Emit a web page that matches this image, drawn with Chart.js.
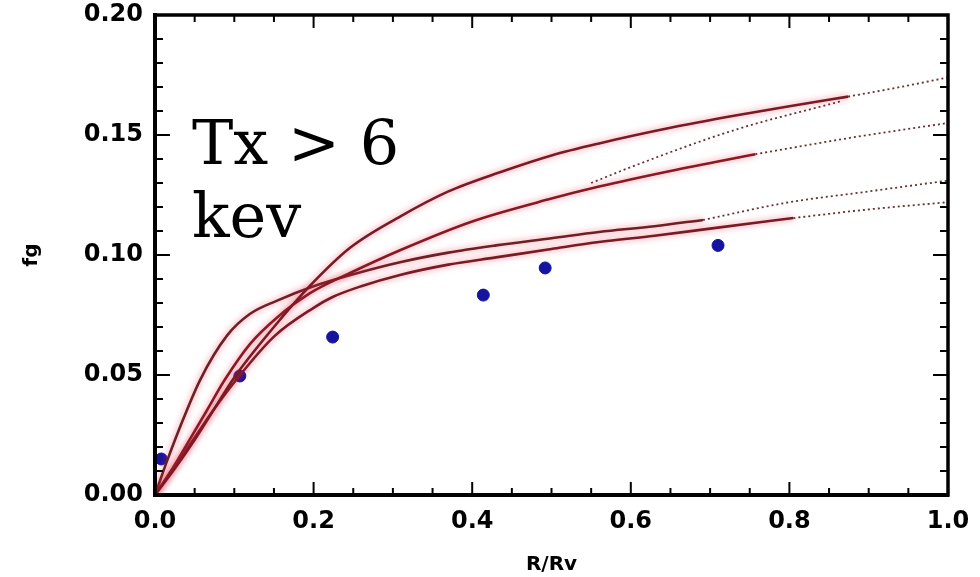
<!DOCTYPE html>
<html><head><meta charset="utf-8">
<script src="https://cdn.jsdelivr.net/npm/chart.js@4.4.1/dist/chart.umd.min.js"></script>
<style>html,body{margin:0;padding:0;background:#fff}#wrap{width:980px;height:577px}</style>
</head><body><div id="wrap"><canvas id="c" width="980" height="577"></canvas></div>
<script>
// ---- data ----
const xTicks = [0, 0.2, 0.4, 0.6, 0.8, 1.0];
const yTicks = [0, 0.05, 0.10, 0.15, 0.20];

const curveA_x = [0,0.025,0.05,0.075,0.1,0.15,0.195,0.246,0.309,0.37,0.435,0.5,0.56,0.65,0.73,0.8,0.874];
const curveA_y = [0,0.011,0.023,0.036,0.049,0.07,0.087,0.103,0.116,0.1265,0.1345,0.1415,0.1465,0.153,0.158,0.162,0.166];
const curveA_ext_x = [0.874,0.94,1.0];
const curveA_ext_y = [0.166,0.170,0.174];

const curveB_x = [0,0.02,0.04,0.065,0.088,0.12,0.154,0.195,0.246,0.309,0.4,0.5,0.56,0.65,0.757];
const curveB_y = [0,0.01,0.021,0.035,0.048,0.063,0.074,0.084,0.0925,0.102,0.114,0.1235,0.1285,0.135,0.142];
const curveB_ext_x = [0.757,0.88,1.0];
const curveB_ext_y = [0.142,0.149,0.155];
const branch_x = [0.55,0.603,0.73,0.864];
const branch_y = [0.130,0.137,0.152,0.164];

const curveC_x = [0,0.015,0.03,0.057,0.091,0.12,0.154,0.2,0.25,0.309,0.37,0.43,0.5,0.56,0.63,0.691];
const curveC_y = [0,0.014,0.027,0.048,0.0665,0.0755,0.081,0.087,0.092,0.097,0.101,0.104,0.107,0.1096,0.112,0.1146];
const curveC_ext_x = [0.691,0.80,0.889,1.0];
const curveC_ext_y = [0.1146,0.122,0.126,0.131];

const curveD_x = [0,0.025,0.05,0.075,0.1,0.15,0.2,0.224,0.26,0.309,0.37,0.43,0.5,0.56,0.63,0.7,0.805];
const curveD_y = [0,0.012,0.024,0.036,0.047,0.066,0.078,0.0825,0.087,0.0917,0.096,0.099,0.1025,0.1054,0.108,0.111,0.1154];
const curveD_ext_x = [0.805,0.9,1.0];
const curveD_ext_y = [0.1154,0.119,0.122];

const obs_x = [0.008,0.107,0.224,0.414,0.492,0.71];
const obs_y = [0.015,0.0496,0.0658,0.0833,0.0946,0.104];

// ---- build ----
const pts = (xs, ys) => xs.map((x, i) => ({x, y: ys[i]}));
const solid = (xs, ys, col) => ({type:'line', data: pts(xs, ys), borderColor: col, borderWidth: 2.6,
  pointRadius: 0, cubicInterpolationMode: 'monotone', fill: false, glow: true});
const dotted = (xs, ys) => ({type:'line', data: pts(xs, ys), borderColor: '#6a3030', borderWidth: 1.8,
  borderDash: [2, 3], pointRadius: 0, cubicInterpolationMode: 'monotone', fill: false});

const glowPlugin = {
  id: 'glow',
  beforeDatasetDraw(chart, args) {
    const ds = chart.data.datasets[args.index];
    if (ds.glow) { const c = chart.ctx; c.save(); c.shadowColor = 'rgba(235,40,70,0.6)'; c.shadowBlur = 6; }
  },
  afterDatasetDraw(chart, args) {
    const ds = chart.data.datasets[args.index];
    if (ds.glow) chart.ctx.restore();
  }
};

const framePlugin = {
  id: 'frame',
  afterDraw(chart) {
    const {ctx, chartArea: a, scales} = chart;
    ctx.save();
    ctx.strokeStyle = '#000';
    ctx.lineWidth = 2;
    const xs = scales.x, ys = scales.y;
    for (let i = 0; i <= 20; i++) {
      const v = i * 0.05; const px = xs.getPixelForValue(v);
      const major = (i % 4 === 0); const L = major ? 13 : 7;
      ctx.beginPath(); ctx.moveTo(px, a.bottom); ctx.lineTo(px, a.bottom - L);
      ctx.moveTo(px, a.top); ctx.lineTo(px, a.top + L); ctx.stroke();
    }
    for (let i = 0; i <= 20; i++) {
      const v = i * 0.01; const py = ys.getPixelForValue(v);
      const major = (i % 5 === 0); const L = major ? 15 : 8;
      ctx.beginPath(); ctx.moveTo(a.left, py); ctx.lineTo(a.left + L, py);
      ctx.moveTo(a.right, py); ctx.lineTo(a.right - L, py); ctx.stroke();
    }
    ctx.lineWidth = 3.5;
    ctx.strokeRect(a.left, a.top, a.right - a.left, a.bottom - a.top);
    ctx.fillStyle = '#000';
    ctx.font = '62px "DejaVu Serif"';
    ctx.textBaseline = 'alphabetic';
    ctx.fillText('Tx > 6', 192, 164);
    ctx.fillText('kev', 192, 237);
    ctx.restore();
  }
};

const tickFont = {family: '"DejaVu Sans"', weight: 'bold', size: 24};

new Chart(document.getElementById('c'), {
  type: 'scatter',
  data: {
    datasets: [
      solid(curveA_x, curveA_y, '#7a1a24'),
      solid(curveB_x, curveB_y, '#8a1822'),
      solid(curveC_x, curveC_y, '#6e2024'),
      solid(curveD_x, curveD_y, '#7a1a24'),
      dotted(curveA_ext_x, curveA_ext_y),
      dotted(curveB_ext_x, curveB_ext_y),
      dotted(branch_x, branch_y),
      dotted(curveC_ext_x, curveC_ext_y),
      dotted(curveD_ext_x, curveD_ext_y),
      {type: 'scatter', data: pts(obs_x, obs_y), backgroundColor: '#1414a0', borderColor: '#1414a0',
        pointRadius: 6, pointStyle: 'circle', showLine: false}
    ]
  },
  options: {
    responsive: false, animation: false, devicePixelRatio: 1,
    layout: {padding: {top: 15, right: 32, left: 0, bottom: 0}},
    plugins: {legend: {display: false}, tooltip: {enabled: false}},
    scales: {
      x: {
        type: 'linear', min: 0, max: 1,
        afterBuildTicks: s => { s.ticks = xTicks.map(v => ({value: v})); },
        afterFit: s => { s.height = 82; s.paddingLeft = 0; s.paddingRight = 0; },
        ticks: {callback: v => Number(v).toFixed(1), font: tickFont, color: '#000', padding: 12, maxRotation: 0},
        grid: {display: false, drawTicks: false},
        border: {display: true, color: '#000', width: 4},
        title: {display: true, text: 'R/Rv', color: '#000', font: {family: '"DejaVu Sans"', weight: 'bold', size: 20}, padding: {top: 2, bottom: 0}}
      },
      y: {
        type: 'linear', min: 0, max: 0.2,
        afterBuildTicks: s => { s.ticks = yTicks.map(v => ({value: v})); },
        afterFit: s => { s.width = 155; s.paddingTop = 0; s.paddingBottom = 0; },
        ticks: {callback: v => Number(v).toFixed(2), font: tickFont, color: '#000', padding: 12},
        grid: {display: false, drawTicks: false},
        border: {display: true, color: '#000', width: 4},
        title: {display: true, text: 'fg', color: '#000', font: {family: '"DejaVu Sans"', weight: 'bold', size: 20}, padding: {top: 20, bottom: 0}}
      }
    }
  },
  plugins: [glowPlugin, framePlugin]
});
</script>
</body></html>
